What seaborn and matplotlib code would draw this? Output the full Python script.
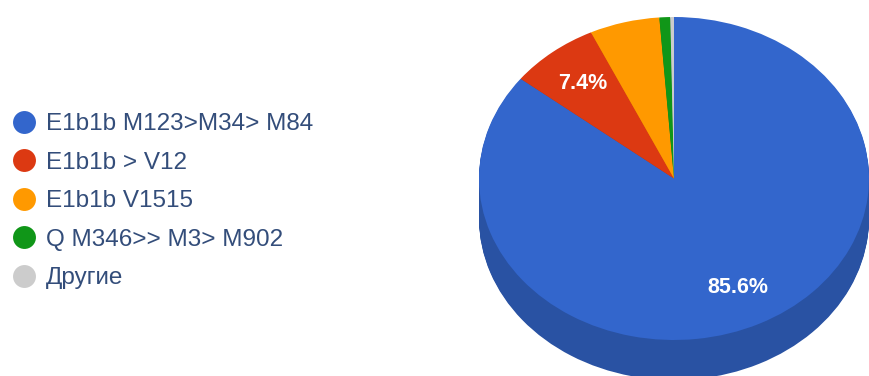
import numpy as np
import matplotlib
matplotlib.use("Agg")
import matplotlib.pyplot as plt
from matplotlib.lines import Line2D
from matplotlib.colors import to_rgb
import seaborn as sns

# Haplogroup shares (%)
labels = ["E1b1b M123>M34> M84", "E1b1b > V12", "E1b1b V1515", "Q M346>> M3> M902", "Другие"]
shares = [85.6, 7.4, 5.8, 0.9, 0.3]
colors = ["#3366cc", "#dc3912", "#ff9900", "#109618", "#cccccc"]

sns.set_theme(style="white")
plt.rcParams["font.family"] = ["Liberation Sans", "DejaVu Sans"]

W, H = 869, 376
fig = plt.figure(figsize=(W / 100, H / 100), dpi=100)
fig.patch.set_facecolor("white")

# Tilted pie: top face is an ellipse, the rim is a stack of darker copies below it
rx, ry, depth = 195, 161.5, 40
cx, cy = 674, 178.5
d = depth / ry
top_px = cy - ry
bottom_px = cy + ry + depth
ax = fig.add_axes([(cx - rx) / W, 1 - bottom_px / H, 2 * rx / W, (bottom_px - top_px) / H])

side_colors = [tuple(c * 0.8 for c in to_rgb(col)) for col in colors]
for off in np.linspace(d, 0, 41)[:-1]:
    ax.pie(shares, colors=side_colors, startangle=90, counterclock=False,
           center=(0, -off), radius=1, wedgeprops=dict(linewidth=0))

ax.pie(shares, colors=colors, startangle=90, counterclock=False, radius=1,
       autopct=lambda p: f"{p:.1f}%" if p > 7 else "", pctdistance=0.75,
       textprops=dict(color="white", fontsize=15.5, fontweight="bold"),
       wedgeprops=dict(linewidth=0))

ax.set_aspect("auto")
ax.set_xlim(-1, 1)
ax.set_ylim(-1 - d, 1)
ax.axis("off")

handles = [Line2D([], [], marker="o", linestyle="none", markersize=16.5,
                  markerfacecolor=c, markeredgewidth=0) for c in colors]
fig.legend(handles, labels, loc="upper left", bbox_to_anchor=(12 / W, 1 - 113 / H),
           frameon=False, fontsize=17.5, labelcolor="#334d7a", handlelength=1.0,
           handletextpad=0.41, borderpad=0, borderaxespad=0, labelspacing=0.68)

fig.savefig("out.png", dpi=100, facecolor="white")
